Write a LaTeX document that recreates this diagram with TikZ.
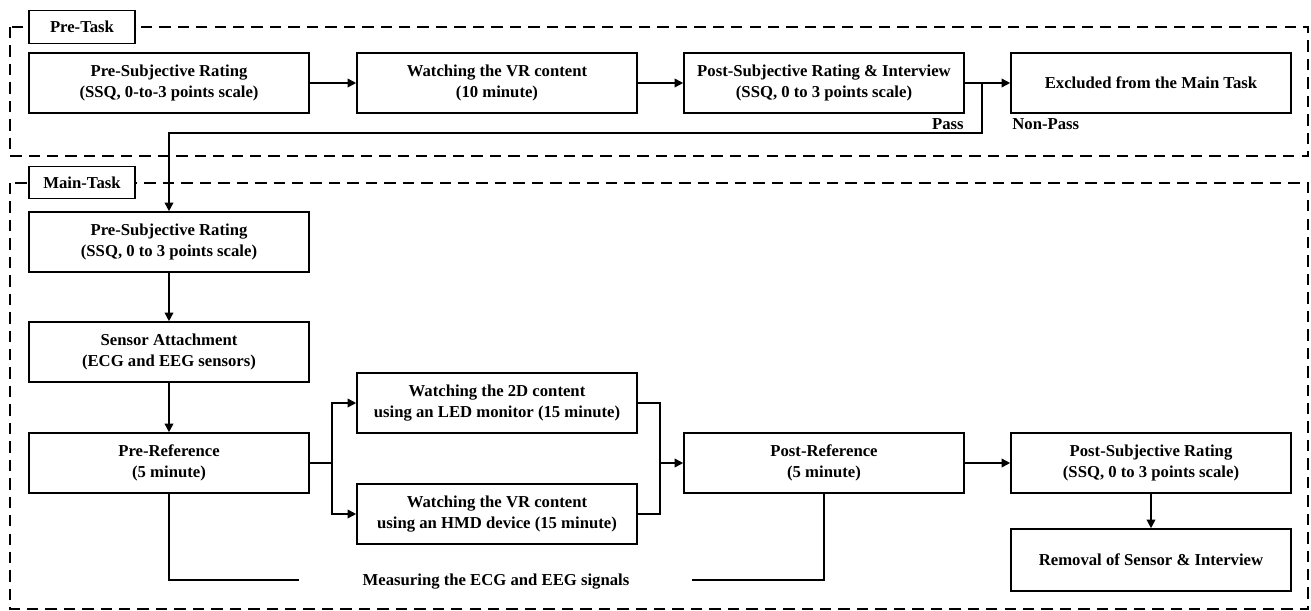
\documentclass[tikz,border=0pt]{standalone}
\usepackage{fontspec}
\setmainfont{Liberation Serif}
\usetikzlibrary{arrows.meta}
\begin{document}
\begin{tikzpicture}[x=0.02cm,y=-0.02cm,
  txt/.style={font=\fontsize{9.5}{11.7}\selectfont\bfseries},
  box/.style={txt,draw,line width=0.8pt,minimum width=5.6cm,minimum height=1.2cm,inner sep=0pt,align=center},
  lab/.style={txt,draw,fill=white,line width=0.8pt,minimum width=2.12cm,minimum height=0.65cm,inner sep=0pt},
  frame/.style={line width=1.1pt,dash pattern=on 6.5pt off 4pt},
  arr/.style={line width=1.4pt,-{Triangle[length=5pt,width=4.8pt]}},
  con/.style={line width=1.4pt},
  meas/.style={line width=0.7pt}
]
\useasboundingbox (0,0) rectangle (1311,611);
% frames
\draw[frame] (10,27) rectangle (1308,156);
\draw[frame] (10,183) rectangle (1308,609);
\node[lab] (pt) at (82,27) {Pre-Task};
\node[lab] (mt) at (82,182.5) {Main-Task};
% pre-task row
\node[box] (b1) at (169,83) {Pre-Subjective Rating\\(SSQ, 0-to-3 points scale)};
\node[box] (b2) at (497,83) {Watching the VR content\\(10 minute)};
\node[box] (b3) at (824,83) {Post-Subjective Rating \& Interview\\(SSQ, 0 to 3 points scale)};
\node[box] (b4) at (1151,83) {Excluded from the Main Task};
% main task
\node[box] (m1) at (169,242) {Pre-Subjective Rating\\(SSQ, 0 to 3 points scale)};
\node[box] (m2) at (169,352) {Sensor Attachment\\(ECG and EEG sensors)};
\node[box] (m3) at (169,463) {Pre-Reference\\(5 minute)};
\node[box] (w2) at (497,403) {Watching the 2D content\\using an LED monitor (15 minute)};
\node[box] (wv) at (497,514) {Watching the VR content\\using an HMD device (15 minute)};
\node[box] (pr) at (824,463) {Post-Reference\\(5 minute)};
\node[box] (ps) at (1151,463) {Post-Subjective Rating\\(SSQ, 0 to 3 points scale)};
\node[box,minimum height=1.24cm] (rm) at (1151,560) {Removal of Sensor \& Interview};
% labels
\node[txt,anchor=east,inner sep=0pt] (pass) at (964,124) {Pass};
\node[txt,anchor=west,inner sep=0pt] (npass) at (1012,124) {Non-Pass};
\node[txt,inner sep=0pt] (mtxt) at (496,582) {Measuring the ECG and EEG signals};
% coordinates
\coordinate (br) at (982,83);
\coordinate (passy) at (0,133);
\coordinate (sp) at (332,463);
\coordinate (mg) at (660,463);
\coordinate (ml) at (299,580);
\coordinate (mr) at (692,580);
% connectors
\draw[arr] (b1) -- (b2);
\draw[arr] (b2) -- (b3);
\draw[arr] (b3) -- (b4);
\draw[arr] (br) -- (br |- passy) -| (m1.north);
\draw[arr] (m1) -- (m2);
\draw[arr] (m2) -- (m3);
\draw[con] (m3.east) -- (sp);
\draw[arr] (sp) |- (w2.west);
\draw[arr] (sp) |- (wv.west);
\draw[con] (w2.east) -| (mg);
\draw[con] (wv.east) -| (mg);
\draw[arr] (mg) -- (pr.west);
\draw[arr] (pr) -- (ps);
\draw[arr] (ps) -- (rm);
\draw[meas] (m3.south) |- (ml);
\draw[meas] (mr) -| (pr.south);
\end{tikzpicture}
\end{document}
